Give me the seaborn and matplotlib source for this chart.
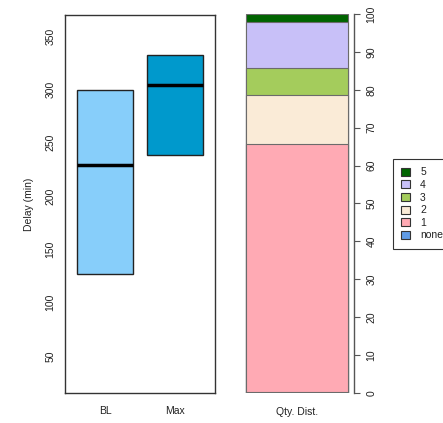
import matplotlib
matplotlib.use("Agg")
import matplotlib.pyplot as plt
import seaborn as sns
import pandas as pd
import numpy as np
from matplotlib.patches import Patch

# ---- data ----
groups = ["BL", "Max"]
box_lower = [127, 238]
box_median = [229, 304.5]
box_upper = [299, 332]
box_colors = ["#87CEFA", "#0099CC"]

dist_labels = ["none", "1", "2", "3", "4", "5"]
dist_values = [0.3, 65.3, 13.0, 7.1, 12.1, 2.2]
dist_colors = ["#5F9BE6", "#FFAAB4", "#FAEBD7", "#A4CC5C", "#C8C0F8", "#006400"]

yticks_left = [50, 100, 150, 200, 250, 300, 350]
yticks_right = list(range(0, 101, 10))

sns.set_style("white")
plt.rcParams["font.family"] = ["Liberation Sans", "DejaVu Sans"]
plt.rcParams["text.color"] = "#222222"
plt.rcParams["xtick.color"] = "#222222"
plt.rcParams["ytick.color"] = "#222222"
plt.rcParams["axes.labelcolor"] = "#222222"

W, H = 443, 423
fig = plt.figure(figsize=(W / 100, H / 100), dpi=100)

# ---- left boxplot ----
ax1 = fig.add_axes([65 / W, (H - 393) / H, 150 / W, 378 / H])
rows = []
for g, lo, md, hi in zip(groups, box_lower, box_median, box_upper):
    for v in [lo, lo, md, hi, hi]:
        rows.append({"group": g, "delay": v})
df = pd.DataFrame(rows)
sns.boxplot(data=df, x="group", y="delay", hue="group", palette=box_colors,
            order=groups, width=0.8, whis=0, showcaps=False, showfliers=False,
            legend=False, saturation=1, ax=ax1,
            boxprops=dict(edgecolor="#222222", linewidth=1.0),
            medianprops=dict(color="black", linewidth=2.5),
            whiskerprops=dict(linewidth=0), capprops=dict(linewidth=0))
ax1.set_xlim(-0.57, 1.57)
ax1.set_ylim(15.3, 369.7)
ax1.set_yticks(yticks_left)
ax1.set_yticklabels([str(t) for t in yticks_left], rotation=90, va="center", fontsize=7.5)
ax1.set_xticks([0, 1])
ax1.set_xticklabels(groups, fontsize=7.5)
ax1.set_xlabel("")
ax1.set_ylabel("Delay (min)", fontsize=7.5, labelpad=8)
for s in ax1.spines.values():
    s.set_visible(True)
    s.set_color("#333333")
    s.set_linewidth(1.0)
ax1.tick_params(axis="both", direction="out", length=4, width=0.8, color="#555555", pad=3)
ax1.tick_params(axis="x", pad=5)

# ---- right stacked bar ----
ax2 = fig.add_axes([240 / W, (H - 393) / H, 114 / W, 379 / H])
cum = np.cumsum(dist_values)
for lab, top, col in reversed(list(zip(dist_labels, cum, dist_colors))):
    sns.barplot(x=["Qty. Dist."], y=[top], color=col, width=0.9, saturation=1,
                edgecolor="#6b6b6b", linewidth=0.8, ax=ax2)
ax2.set_xlim(-0.5, 0.5)
ax2.set_ylim(0, 100)
for k in ["left", "top", "bottom"]:
    ax2.spines[k].set_visible(False)
ax2.spines["right"].set_visible(True)
ax2.spines["right"].set_color("#555555")
ax2.spines["right"].set_linewidth(1.0)
ax2.yaxis.tick_right()
ax2.set_yticks(yticks_right)
ax2.set_yticklabels([str(t) for t in yticks_right], rotation=90, va="center", fontsize=7.5)
ax2.tick_params(axis="y", direction="out", length=4, width=0.8, color="#555555", pad=5)
ax2.tick_params(axis="x", length=0, labelsize=7.5, pad=10)
ax2.set_xlabel("")
ax2.set_ylabel("")

# ---- legend ----
handles = [Patch(facecolor=c, edgecolor="#333333", linewidth=0.8, label=l)
           for l, c in zip(reversed(dist_labels), reversed(dist_colors))]
leg = fig.legend(handles=handles, loc="upper left",
                 bbox_to_anchor=(393 / W, (H - 159) / H), frameon=True,
                 fancybox=False, fontsize=7.5, handlelength=0.8, handleheight=0.8,
                 handletextpad=1.0, labelspacing=0.25, borderpad=0.8,
                 borderaxespad=0)
leg.get_frame().set_edgecolor("black")
leg.get_frame().set_linewidth(0.8)

fig.savefig("out.png", dpi=100)
